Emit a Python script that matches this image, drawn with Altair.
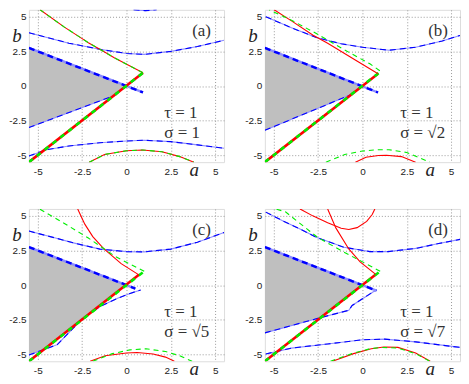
import altair as alt
import pandas as pd

TICKS = [-5, -2.5, 0, 2.5, 5]
PANEL_TAGS = ["(a)", "(b)", "(c)", "(d)"]
TAU_TEXT = ["τ = 1", "τ = 1", "τ = 1", "τ = 1"]
SIGMA_TEXT = ["σ = 1", "σ = √2", "σ = √5", "σ = √7"]

# gray region: a positions, upper and lower b
GRAY = {
    "a": {"a": [-5.5, -0.68, 0], "up": [2.75, 0.34, 0], "lo": [-3.0, -0.68, 0]},
    "b": {"a": [-5.5, -0.6, 0], "up": [2.75, 0.3, 0], "lo": [-3.2, -0.6, 0]},
    "c": {"a": [-5.5, -4.7, 0], "up": [2.75, 2.35, 0], "lo": [-5.05, -4.7, 0]},
    "d": {"a": [-5.5, -2.34, 0], "up": [2.75, 1.17, 0], "lo": [-3.45, -2.34, 0]},
}

# --- panel (a) ---
A_RED_DIAG = ([-5.5, 0.93], [-5.5, 0.95])
A_GRN_DIAG = ([-5.5, 0.93], [-5.5, 0.95])
A_RED_UP = ([0.93, -0.69, -1.33, -2.15, -2.5, -3.5, -4.87], [0.95, 2.04, 2.52, 3.12, 3.42, 4.25, 5.5])
A_GRN_UP = ([0.93, -0.69, -1.33, -2.15, -2.5, -3.5, -4.87], [0.95, 2.04, 2.52, 3.12, 3.42, 4.25, 5.5])
A_RED_LOW = ([-2.1, -1.24, 0, 0.9, 2, 3, 3.8], [-5.5, -4.95, -4.68, -4.62, -4.75, -5.1, -5.5])
A_GRN_LOW = ([-2.1, -1.24, 0, 0.9, 2, 3, 3.8], [-5.5, -4.95, -4.68, -4.62, -4.75, -5.1, -5.5])
A_BLUE_THICK = ([-5.5, 0.93], [2.75, -0.47])
A_BLUE = [
    ([-5.5, -0.68], [-3.0, -0.68]),
    ([-5.5, -3.25, -1.42, 0, 1, 2.5, 4, 5.5], [3.84, 3.09, 2.63, 2.35, 2.28, 2.5, 2.85, 3.3]),
    ([0.4, 1.05, 1.7], [5.5, 5.44, 5.5]),
    ([-5.5, -4.5, -3.25, -1.5, 0, 1, 2.5, 4, 5.5], [-5.05, -4.6, -4.33, -4.1, -3.97, -3.92, -4.02, -4.25, -4.5]),
]

# --- panel (b) ---
B_RED_DIAG = ([-5.5, 0.88], [-5.5, 0.88])
B_GRN_DIAG = ([-5.5, 0.98], [-5.5, 1.0])
B_RED_UP = ([0.88, -0.31, -1.96, -2.78, -4.0, -4.98], [0.88, 1.81, 3.09, 3.67, 4.7, 5.5])
B_GRN_UP = ([0.98, 0.42, -1.0, -2.6, -4.0, -5.25], [1.1, 1.6, 2.6, 3.79, 4.75, 5.5])
B_RED_LOW = ([-0.4, 0.2, 0.9, 1.35, 2.2, 3.0], [-5.5, -5.15, -5.02, -5.0, -5.1, -5.5])
B_GRN_LOW = ([-2.06, -1.0, 0, 0.9, 1.5, 2.5, 3.8], [-5.5, -4.95, -4.7, -4.6, -4.6, -4.8, -5.5])
B_BLUE_THICK = ([-5.5, 0.88], [2.75, -0.47])
B_BLUE = [
    ([-5.5, -0.6], [-3.2, -0.6]),
    ([-5.45, -4.0, -2.6, -1.2, 0, 1.5, 3, 4.5, 5.5], [5.0, 4.2, 3.5, 3.05, 2.8, 2.58, 2.8, 3.25, 3.65]),
]

# --- panel (c) ---
C_RED_DIAG = ([-5.5, 0.7], [-5.5, 0.74])
C_GRN_DIAG = ([-5.5, 1.0], [-5.5, 1.0])
C_RED_UP = ([0.7, -0.3, -1.3, -1.9, -2.35, -2.75], [0.74, 1.55, 2.65, 3.5, 4.4, 5.5])
C_GRN_UP = ([1.0, -0.6, -2.15, -3.5, -4.9], [1.0, 2.04, 3.4, 4.45, 5.5])
C_RED_LOW = ([-2.05, -1.2, 0, 0.6, 1.5, 2.2, 2.7], [-5.5, -5.1, -4.9, -4.87, -4.98, -5.2, -5.5])
C_GRN_LOW = ([-1.9, -0.8, 0.2, 1.1, 2.2, 3.0, 3.7], [-5.5, -4.95, -4.68, -4.6, -4.8, -5.1, -5.5])
C_BLUE_THICK = ([-5.5, 0.5], [2.75, -0.25])
C_BLUE = [
    ([-5.5, -4.5, -3.9, -3.3, -2.5, -1.5, -0.5, 0.2, 0.8], [-5.05, -4.58, -4.3, -3.5, -2.45, -1.55, -0.95, -0.6, -0.35]),
    ([-5.5, -4.0, -3.0, -1.5, 0, 1, 2.5, 4, 5.5], [3.9, 3.4, 3.05, 2.6, 2.42, 2.4, 2.6, 3.1, 3.8]),
]

# --- panel (d) ---
D_RED_DIAG = ([-5.5, 0.75], [-5.5, 0.77])
D_GRN_DIAG = ([-5.5, 1.0], [-5.5, 1.0])
D_RED_UP = ([0.75, -0.13, -0.77, -1.5, -1.96], [0.77, 1.68, 2.61, 4.13, 5.5])
D_RED_U = ([-3.52, -2.8, -1.96, -1.2, -0.77, -0.3, 0.24, 0.55, 0.7], [5.5, 5.0, 4.5, 4.1, 4.02, 4.15, 4.6, 5.1, 5.5])
D_GRN_UP = ([1.0, -1.04, -2.51, -4.34, -4.89], [1.0, 2.38, 3.43, 5.29, 5.5])
D_RED_LOW = ([-1.69, -0.5, 0.5, 1.2, 2.0, 3.0, 3.82], [-5.5, -4.95, -4.6, -4.47, -4.5, -4.9, -5.5])
D_GRN_LOW = ([-1.8, -0.6, 0.4, 1.1, 2.0, 3.0, 3.8], [-5.5, -4.95, -4.6, -4.5, -4.55, -4.95, -5.5])
D_BLUE_THICK = ([-5.5, 0.79], [2.75, -0.4])
D_BLUE = [
    ([-5.5, -2.34, -0.77, -0.58, 0.79], [-3.45, -2.34, -1.82, -1.47, -0.33]),
    ([-5.45, -4.5, -3.43, -2.6, -1.04, 0.42, 1.45, 3, 4.3, 5.5], [5.27, 4.65, 4.0, 3.45, 2.73, 2.42, 2.42, 2.65, 3.0, 3.3]),
    ([-5.45, -4.0, -1.96, 0, 1.25, 3, 5.5], [-4.97, -4.55, -4.25, -3.95, -3.9, -4.1, -4.5]),
]

PANELS = {
    "a": dict(red_diag=A_RED_DIAG, grn_diag=A_GRN_DIAG, red=[A_RED_UP, A_RED_LOW], grn=[A_GRN_UP, A_GRN_LOW],
              blue_thick=[A_BLUE_THICK], blue=A_BLUE),
    "b": dict(red_diag=B_RED_DIAG, grn_diag=B_GRN_DIAG, red=[B_RED_UP, B_RED_LOW], grn=[B_GRN_UP, B_GRN_LOW],
              blue_thick=[B_BLUE_THICK], blue=B_BLUE),
    "c": dict(red_diag=C_RED_DIAG, grn_diag=C_GRN_DIAG, red=[C_RED_UP, C_RED_LOW], grn=[C_GRN_UP, C_GRN_LOW],
              blue_thick=[C_BLUE_THICK], blue=C_BLUE),
    "d": dict(red_diag=D_RED_DIAG, grn_diag=D_GRN_DIAG, red=[D_RED_UP, D_RED_U, D_RED_LOW], grn=[D_GRN_UP, D_GRN_LOW],
              blue_thick=[D_BLUE_THICK], blue=D_BLUE),
}

W, H = 196, 153
XS = alt.Scale(domain=[-5.5, 5.5], nice=False, zero=False)
YS = alt.Scale(domain=[-5.5, 5.5], nice=False, zero=False)
LABEL_EXPR = "datum.value == 2.5 ? '2.5' : (datum.value == -2.5 ? '-2.5' : (datum.value == -5 ? '-5' : datum.label))"
XAX = alt.Axis(values=TICKS, title=None, ticks=False, domain=False, labelPadding=4, labelExpr=LABEL_EXPR,
               grid=True, gridDash=[1, 2], gridColor="#9a9a9a", labelFont="Liberation Sans",
               labelFontSize=10, labelColor="#222", labelFlush=False)
YAX = alt.Axis(values=TICKS, title=None, ticks=False, domain=False, labelPadding=3, labelExpr=LABEL_EXPR,
               grid=True, gridDash=[1, 2], gridColor="#9a9a9a", labelFont="Liberation Sans",
               labelFontSize=10, labelColor="#222", labelFlush=False)


def lines_df(series):
    rows = []
    for sid, (xs, ys) in enumerate(series):
        for i, (x, y) in enumerate(zip(xs, ys)):
            rows.append({"sid": sid, "i": i, "a": x, "b": y})
    return pd.DataFrame(rows)


def line_layer(series, color, width, dash=None, offset=0):
    kw = dict(color=color, strokeWidth=width, clip=True)
    if dash:
        kw["strokeDash"] = dash
        kw["strokeDashOffset"] = offset
    return alt.Chart(lines_df(series)).mark_line(**kw).encode(
        x=alt.X("a:Q", scale=XS, axis=XAX),
        y=alt.Y("b:Q", scale=YS, axis=YAX),
        detail="sid:N", order="i:Q")


def panel(key, idx):
    p = PANELS[key]
    g = pd.DataFrame(GRAY[key])
    gray = alt.Chart(g).mark_area(color="#bfbfbf", opacity=1, clip=True).encode(
        x=alt.X("a:Q", scale=XS, axis=XAX), y=alt.Y("up:Q", scale=YS, axis=YAX), y2="lo:Q")
    layers = [gray]
    layers.append(line_layer(p["blue"], "#8c8cff", 1.1))
    layers.append(line_layer(p["blue"], "#0000ff", 1.1, dash=[6, 4]))
    layers.append(line_layer(p["blue_thick"], "#8c8cff", 2.4))
    layers.append(line_layer(p["blue_thick"], "#0000ff", 2.4, dash=[6, 4]))
    layers.append(line_layer([p["red_diag"]], "#ff0000", 2.6))
    layers.append(line_layer([p["grn_diag"]], "#00ee00", 2.6, dash=[5, 5]))
    layers.append(line_layer(p["red"], "#ff0000", 1.1))
    layers.append(line_layer(p["grn"], "#00ee00", 1.1, dash=[5, 4]))
    serif = "Liberation Serif"
    txt = pd.DataFrame({"tag": [PANEL_TAGS[idx]], "tau": [TAU_TEXT[idx]], "sig": [SIGMA_TEXT[idx]]})
    base = alt.Chart(txt)
    layers.append(base.mark_text(font=serif, fontSize=17, align="left", baseline="middle", color="#333")
                  .encode(text="tag:N", x=alt.value(W - 32), y=alt.value(21)))
    layers.append(base.mark_text(font=serif, fontSize=17, align="left", baseline="middle", color="#333")
                  .encode(text="tau:N", x=alt.value(W - 60), y=alt.value(104)))
    layers.append(base.mark_text(font=serif, fontSize=17, align="left", baseline="middle", color="#333")
                  .encode(text="sig:N", x=alt.value(W - 60), y=alt.value(124)))
    layers.append(base.mark_text(font=serif, fontSize=19, fontStyle="italic", align="center",
                                 baseline="middle", color="#222")
                  .encode(text=alt.value("a"), x=alt.value(W - 30), y=alt.value(H + 8)))
    layers.append(base.mark_text(font=serif, fontSize=19, fontStyle="italic", align="center",
                                 baseline="middle", color="#222")
                  .encode(text=alt.value("b"), x=alt.value(-12), y=alt.value(26)))
    return alt.layer(*layers).properties(width=W, height=H)


row1 = alt.hconcat(panel("a", 0), panel("b", 1), spacing=19)
row2 = alt.hconcat(panel("c", 2), panel("d", 3), spacing=19)
chart = alt.vconcat(row1, row2, spacing=27).properties(padding=0).configure_view(
    stroke="#666", strokeWidth=1).configure(background="white")

chart.save("out.html", embed_options={"renderer": "svg", "actions": False})
